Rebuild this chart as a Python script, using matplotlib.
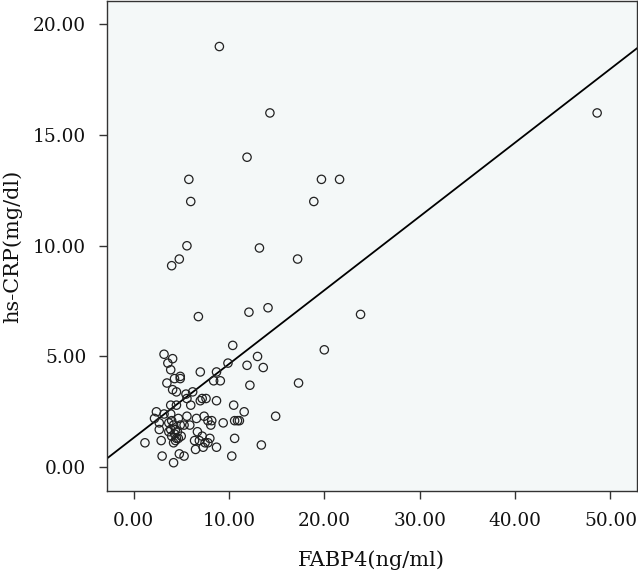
import matplotlib
matplotlib.use("Agg")
import matplotlib.pyplot as plt
import numpy as np

# FABP4 (ng/ml) vs hs-CRP (mg/dl)
fabp4 = [
    9.0, 14.3, 11.9, 5.8, 6.0, 19.7, 21.6, 18.9, 5.6, 4.8, 4.0, 13.2, 17.2,
    6.8, 12.1, 14.1, 23.8, 48.6, 20.0, 17.3, 14.9,
    3.2, 4.1, 3.6, 3.9, 4.9, 4.9, 4.3, 3.5, 4.1, 4.5, 5.5, 6.2, 5.6,
    7.0, 8.7, 8.4, 9.1, 10.4, 9.9, 11.9, 13.0, 13.6, 12.2,
    7.0, 7.2, 7.6, 8.7, 6.0, 4.5, 3.9, 10.5, 11.6,
    2.4, 2.2, 3.2, 3.9, 4.0, 4.7, 5.6, 6.6, 7.4, 7.8, 8.2, 8.1, 9.4,
    10.6, 10.9, 11.1,
    2.7, 2.7, 3.7, 4.2, 3.9, 4.4, 4.9, 5.3, 5.9, 4.6, 4.0, 4.5, 4.7, 4.2,
    1.2, 2.9, 3.0, 4.2, 4.8, 5.3, 6.7, 6.9, 6.4, 6.5, 7.3, 7.5, 7.2, 7.8,
    8.0, 8.7, 10.6, 10.3, 13.4, 4.4, 4.3, 3.7, 5.0,
]
hscrp = [
    19.0, 16.0, 14.0, 13.0, 12.0, 13.0, 13.0, 12.0, 10.0, 9.4, 9.1, 9.9, 9.4,
    6.8, 7.0, 7.2, 6.9, 16.0, 5.3, 3.8, 2.3,
    5.1, 4.9, 4.7, 4.4, 4.1, 4.0, 4.0, 3.8, 3.5, 3.4, 3.3, 3.4, 3.1,
    4.3, 4.3, 3.9, 3.9, 5.5, 4.7, 4.6, 5.0, 4.5, 3.7,
    3.0, 3.1, 3.1, 3.0, 2.8, 2.8, 2.8, 2.8, 2.5,
    2.5, 2.2, 2.4, 2.4, 2.1, 2.2, 2.3, 2.2, 2.3, 2.1, 2.1, 1.9, 2.0,
    2.1, 2.1, 2.1,
    2.0, 1.7, 2.0, 1.9, 1.7, 1.7, 1.9, 1.9, 1.9, 1.6, 1.4, 1.3, 1.3, 1.1,
    1.1, 1.2, 0.5, 0.2, 0.6, 0.5, 1.6, 1.2, 1.2, 0.8, 0.9, 1.1, 1.4, 1.1,
    1.3, 0.9, 1.3, 0.5, 1.0, 1.2, 1.5, 1.6, 1.4,
]

# fitted regression line shown on the chart
fit_intercept = 1.32
fit_slope = 0.3335

xticks = [0, 10, 20, 30, 40, 50]
yticks = [0, 5, 10, 15, 20]

plt.rcParams["font.family"] = ["DejaVu Serif"]

fig = plt.figure(figsize=(6.38, 5.75), dpi=100)
ax = fig.add_axes([0.1677, 0.146, 0.8303, 0.852])
ax.set_facecolor("#f4f8f8")

xlim = (-2.78, 52.75)
ylim = (-1.08, 21.05)
ax.set_xlim(*xlim)
ax.set_ylim(*ylim)

xs = np.array(xlim)
ax.plot(xs, fit_intercept + fit_slope * xs, color="black", lw=1.3, zorder=2)

ax.scatter(fabp4, hscrp, s=36, facecolors="none", edgecolors="#222222",
           linewidths=0.9, zorder=3)

ax.set_xticks(xticks)
ax.set_xticklabels([f"{v:.2f}" for v in xticks])
ax.set_yticks(yticks)
ax.set_yticklabels([f"{v:.2f}" for v in yticks])
ax.tick_params(direction="out", length=6, width=1, color="#333333",
               labelsize=13.3, labelcolor="#111111")
ax.tick_params(axis="x", pad=9)
ax.tick_params(axis="y", pad=9)

for s in ax.spines.values():
    s.set_color("#333333")
    s.set_linewidth(1)

ax.set_xlabel("FABP4(ng/ml)", fontsize=15, color="#111111", va="center")
ax.set_ylabel("hs-CRP(mg/dl)", fontsize=15, color="#111111", va="center")
# centre the axis titles where the reference has them
ax.xaxis.set_label_coords(0.5, -0.141)
ax.yaxis.set_label_coords(-0.179, 0.5)

fig.savefig("out.png", dpi=100)
